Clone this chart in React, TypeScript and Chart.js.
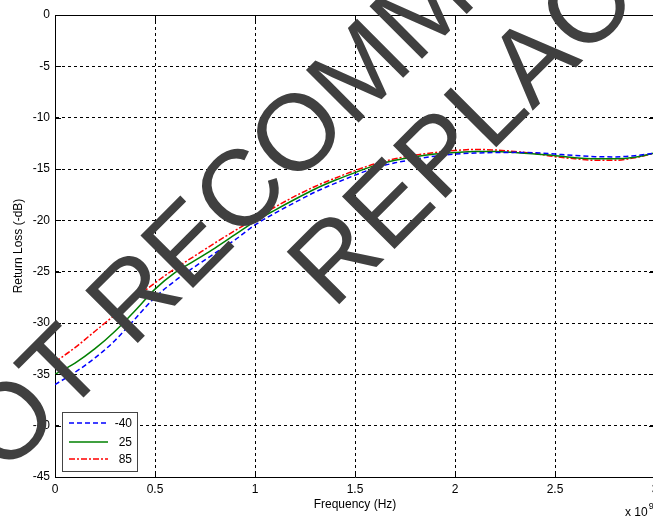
import React, { useEffect, useRef } from "react";
import { Chart, registerables } from "chart.js";

Chart.register(...registerables);

// Frequency in units of 1e9 Hz
const freqGHz = [
  0, 0.1, 0.2, 0.3, 0.4, 0.5, 0.6, 0.7, 0.8, 0.9, 1.0, 1.1, 1.2, 1.3, 1.4, 1.5,
  1.6, 1.7, 1.8, 1.9, 2.0, 2.1, 2.2, 2.3, 2.4, 2.5, 2.6, 2.7, 2.8, 2.9, 3.0,
];

const rlMinus40 = [
  -36.0, -34.8, -33.4, -31.7, -29.6, -27.5, -25.9, -24.5, -23.2, -21.9, -20.45,
  -19.3, -18.25, -17.25, -16.4, -15.6, -14.9, -14.4, -14.05, -13.75, -13.55,
  -13.45, -13.4, -13.38, -13.42, -13.55, -13.68, -13.8, -13.82, -13.7, -13.45,
];

const rl25 = [
  -35.0, -33.9, -32.5, -30.8, -28.8, -26.7, -25.1, -23.9, -22.7, -21.4, -20.1,
  -19.0, -17.95, -16.95, -16.1, -15.35, -14.65, -14.15, -13.8, -13.55, -13.4,
  -13.3, -13.3, -13.4, -13.55, -13.7, -13.9, -14.0, -14.0, -13.85, -13.45,
];

const rl85 = [
  -33.8, -32.4, -30.8, -29.2, -27.6, -26.1, -24.7, -23.45, -22.2, -21.0, -19.85,
  -18.7, -17.65, -16.7, -15.9, -15.15, -14.5, -14.0, -13.65, -13.4, -13.2,
  -13.1, -13.15, -13.3, -13.5, -13.8, -14.0, -14.15, -14.15, -13.9, -13.45,
];

const seriesLabels = ["-40", "25", "85"];

const xTickValues = [0, 0.5, 1, 1.5, 2, 2.5, 3];
const xTickLabels = ["0", "0.5", "1", "1.5", "2", "2.5", "3"];
const yTickValues = [0, -5, -10, -15, -20, -25, -30, -35, -40, -45];
const yTickLabels = ["0", "-5", "-10", "-15", "-20", "-25", "-30", "-35", "-40", "-45"];

const xTitle = "Frequency (Hz)";
const yTitle = "Return Loss (-dB)";
const xExponentBase = "x 10";
const xExponent = "9";
const watermarkLines = ["NOT RECOMMENDED FOR NEW DESIGN", "REPLACEMENT"];

const FONT = "Arial, 'Liberation Sans', sans-serif";

const framePlugin = {
  id: "matlabFrame",
  afterDraw(chart: any) {
    const ctx = chart.ctx as CanvasRenderingContext2D;
    const { left, right, top, bottom } = chart.chartArea;
    const xs = chart.scales.x;
    const ys = chart.scales.y;

    ctx.save();
    // box top and right
    ctx.strokeStyle = "#000";
    ctx.lineWidth = 1;
    ctx.setLineDash([]);
    ctx.beginPath();
    ctx.moveTo(left, Math.round(top) + 0.5);
    ctx.lineTo(right, Math.round(top) + 0.5);
    ctx.moveTo(Math.round(right) + 0.5, top);
    ctx.lineTo(Math.round(right) + 0.5, bottom);
    ctx.stroke();

    // inward tick marks
    ctx.beginPath();
    for (const v of yTickValues) {
      const y = Math.round(ys.getPixelForValue(v)) + 0.5;
      ctx.moveTo(left, y);
      ctx.lineTo(left + 6, y);
      ctx.moveTo(right, y);
      ctx.lineTo(right - 6, y);
    }
    for (const v of xTickValues) {
      const x = Math.round(xs.getPixelForValue(v)) + 0.5;
      ctx.moveTo(x, bottom);
      ctx.lineTo(x, bottom - 6);
      ctx.moveTo(x, top);
      ctx.lineTo(x, top + 6);
    }
    ctx.stroke();

    // exponent label
    ctx.fillStyle = "#000";
    ctx.font = `12px ${FONT}`;
    ctx.textBaseline = "alphabetic";
    ctx.textAlign = "left";
    const ex = right - 30;
    const ey = 516;
    ctx.fillText(xExponentBase, ex, ey);
    const w = ctx.measureText(xExponentBase).width;
    ctx.font = `9px ${FONT}`;
    ctx.fillText(xExponent, ex + w + 1, ey - 7);

    // legend
    const lx = left + 7;
    const ly = bottom - 65;
    const lw = 75;
    const lh = 59;
    ctx.fillStyle = "#fff";
    ctx.fillRect(lx, ly, lw, lh);
    ctx.strokeStyle = "#444";
    ctx.lineWidth = 1;
    ctx.strokeRect(lx + 0.5, ly + 0.5, lw, lh);
    const rowY = [ly + 11, ly + 30, ly + 47];
    chart.data.datasets.forEach((ds: any, i: number) => {
      const y = rowY[i];
      ctx.save();
      ctx.strokeStyle = ds.borderColor;
      ctx.lineWidth = ds.borderWidth;
      ctx.setLineDash(ds.borderDash || []);
      ctx.beginPath();
      ctx.moveTo(lx + 7, y);
      ctx.lineTo(lx + 46, y);
      ctx.stroke();
      ctx.restore();
      ctx.fillStyle = "#000";
      ctx.font = `12px ${FONT}`;
      ctx.textAlign = "right";
      ctx.textBaseline = "middle";
      ctx.fillText(ds.label, lx + 70, y + 1);
    });

    // watermark
    ctx.fillStyle = "#404040";
    ctx.font = `108px 'Liberation Sans', Arial, sans-serif`;
    ctx.textAlign = "left";
    ctx.textBaseline = "alphabetic";
    const r2 = Math.SQRT2;
    const place = (text: string, s: number, t: number) => {
      const x = (s + t) / r2;
      const y = (t - s) / r2;
      ctx.save();
      ctx.translate(x, y);
      ctx.rotate(-Math.PI / 4);
      ctx.fillText(text, 0, 0);
      ctx.restore();
    };
    const notW = ctx.measureText("NOT ").width;
    place(watermarkLines[0], -154 - notW, 340);
    place(watermarkLines[1], 16, 455);

    ctx.restore();
  },
};

export default function App() {
  const ref = useRef<HTMLCanvasElement>(null);
  useEffect(() => {
    document.body.style.margin = "0";
    const canvas = ref.current!;
    const mk = (arr: number[]) => freqGHz.map((f, i) => ({ x: f, y: arr[i] }));
    const chart = new Chart(canvas, {
      type: "line",
      data: {
        datasets: [
          {
            label: seriesLabels[0],
            data: mk(rlMinus40),
            borderColor: "#0000ff",
            borderWidth: 1.5,
            borderDash: [5, 3],
            pointRadius: 0,
            cubicInterpolationMode: "monotone",
            fill: false,
          },
          {
            label: seriesLabels[1],
            data: mk(rl25),
            borderColor: "#008000",
            borderWidth: 1.5,
            pointRadius: 0,
            cubicInterpolationMode: "monotone",
            fill: false,
          },
          {
            label: seriesLabels[2],
            data: mk(rl85),
            borderColor: "#ff0000",
            borderWidth: 1.5,
            borderDash: [6, 2, 2, 2],
            pointRadius: 0,
            cubicInterpolationMode: "monotone",
            fill: false,
          },
        ],
      },
      options: {
        responsive: false,
        animation: false,
        events: [],
        layout: { padding: { top: 15, right: 45, left: 0, bottom: 0 } },
        plugins: { legend: { display: false }, tooltip: { enabled: false } },
        scales: {
          x: {
            type: "linear",
            min: 0,
            max: 3,
            afterBuildTicks: (s: any) => {
              s.ticks = xTickValues.map((v) => ({ value: v }));
            },
            afterFit: (s: any) => {
              s.height = 42;
            },
            ticks: {
              autoSkip: false,
              maxRotation: 0,
              padding: 5,
              color: "#000",
              font: { family: FONT, size: 12 },
              callback: (v: any) => {
                const i = xTickValues.indexOf(Number(v));
                return i >= 0 ? xTickLabels[i] : "";
              },
            },
            grid: {
              drawTicks: false,
              lineWidth: 1,
              color: (c: any) =>
                c.tick && (c.tick.value === 0 || c.tick.value === 3) ? "rgba(0,0,0,0)" : "#000",
            },
            border: { display: true, color: "#000", width: 1, dash: [3, 3] },
            title: {
              display: true,
              text: xTitle,
              color: "#000",
              font: { family: FONT, size: 12 },
              padding: { top: 0, bottom: 7 },
            },
          },
          y: {
            type: "linear",
            min: -45,
            max: 0,
            afterBuildTicks: (s: any) => {
              s.ticks = yTickValues.map((v) => ({ value: v }));
            },
            afterFit: (s: any) => {
              s.width = 55;
            },
            ticks: {
              autoSkip: false,
              padding: 5,
              color: "#000",
              font: { family: FONT, size: 12 },
              callback: (v: any) => {
                const i = yTickValues.indexOf(Number(v));
                return i >= 0 ? yTickLabels[i] : "";
              },
            },
            grid: {
              drawTicks: false,
              lineWidth: 1,
              color: (c: any) =>
                c.tick && (c.tick.value === 0 || c.tick.value === -45) ? "rgba(0,0,0,0)" : "#000",
            },
            border: { display: true, color: "#000", width: 1, dash: [3, 3] },
            title: {
              display: true,
              text: yTitle,
              color: "#000",
              font: { family: FONT, size: 12 },
              padding: { top: 11, bottom: 0 },
            },
          },
        },
      },
      plugins: [framePlugin],
    } as any);
    return () => chart.destroy();
  }, []);

  return (
    <div
      style={{
        position: "absolute",
        left: 0,
        top: 0,
        width: 653,
        height: 519,
        overflow: "hidden",
        background: "#fff",
      }}
    >
      <canvas ref={ref} width={700} height={519} style={{ display: "block" }} />
    </div>
  );
}
